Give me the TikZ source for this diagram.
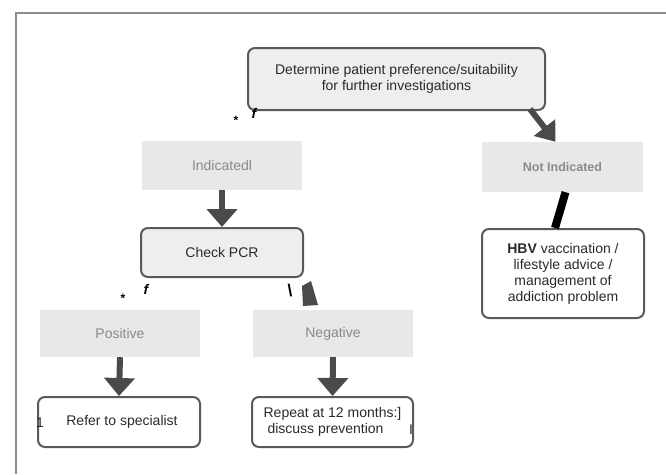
\documentclass[tikz,border=0pt]{standalone}
\usepackage{fontspec}
\setmainfont{Liberation Sans}
\usetikzlibrary{arrows.meta,calc}
\definecolor{framecol}{HTML}{8C8C8C}
\definecolor{arrcol}{HTML}{4A4A4A}
\definecolor{boxline}{HTML}{5A5A5A}
\definecolor{grayfill}{HTML}{E8E8E8}
\definecolor{lightfill}{HTML}{EEEEEE}
\definecolor{graytext}{HTML}{8A8A8A}
\definecolor{darktext}{HTML}{2A2A2A}
\tikzset{
  rbox/.style={draw=boxline, line width=2pt, rounded corners=7pt, fill=white,
    text=darktext, align=center, font=\fontsize{14}{16}\selectfont, inner sep=2pt},
  rboxfill/.style={rbox, fill=lightfill},
  gbox/.style={fill=grayfill, text=graytext, align=center,
    font=\fontsize{14}{16}\selectfont, inner sep=2pt},
  bigarrow/.style={draw=arrcol, line width=6pt,
    -{Triangle[width=30pt,length=18pt,fill=arrcol]}},
  mark text/.style={font=\fontsize{12}{12}\selectfont\bfseries, text=black, inner sep=0pt}
}
\begin{document}
\begin{tikzpicture}[x=1pt,y=-1pt]
\useasboundingbox (0,0) rectangle (666,474);
% frame
\draw[framecol, line width=1.6pt] (666,13) -- (16,13) -- (16,474);

% nodes
\node[rboxfill, minimum width=297pt, minimum height=62pt] (top) at (396.5,79)
  {Determine patient preference/suitability\\for further investigations};
\node[gbox, minimum width=160pt, minimum height=49pt] (ind) at (222,165.5) {Indicatedl};
\node[gbox, minimum width=161pt, minimum height=50pt, font=\fontsize{12.5}{14}\selectfont\bfseries] (notind) at (562.5,167) {Not Indicated};
\node[rboxfill, minimum width=162pt, minimum height=49pt] (pcr) at (222,252.5) {Check PCR};
\node[rbox, minimum width=162pt, minimum height=89pt] (hbv) at (563,273.5)
  {\textbf{HBV} vaccination /\\lifestyle advice /\\management of\\addiction problem};
\node[gbox, minimum width=160pt, minimum height=47pt] (pos) at (120,333.5) {Positive};
\node[gbox, minimum width=160pt, minimum height=47pt] (neg) at (333,333.5) {Negative};
\node[rbox, minimum width=162pt, minimum height=50pt] (refer) at (119,422) {\hspace*{6pt}Refer to specialist};
\node[rbox, minimum width=161pt, minimum height=50pt] (repeat) at (332.5,422)
  {Repeat at 12 months:]\\discuss prevention\hspace*{14pt}};

% stray marks printed in the picture
\node[mark text] (s1) at (236,120) {*};
\node[mark text, font=\fontsize{14}{14}\selectfont\bfseries\itshape] (f1) at (254,113) {f};
\node[mark text] (s2) at (123,298) {*};
\node[mark text, font=\fontsize{14}{14}\selectfont\bfseries\itshape] (f2) at (146,289) {f};
\node[mark text, font=\fontsize{17}{17}\selectfont\bfseries] (bs) at (290,291) {\textbackslash};
\node[font=\fontsize{14}{14}\selectfont, text=darktext, inner sep=0pt] (one) at (40,423) {1};
\node[font=\fontsize{14}{14}\selectfont, text=darktext, inner sep=0pt] (bar) at (411,430) {I};

% connectors
\draw[bigarrow, -{Triangle[width=26pt,length=18pt,fill=arrcol]}]
  ($(top.south east)+(-16,-2)$) -- ($(notind.north)+(-7,0)$);
\draw[bigarrow] (ind.south) -- (pcr.north);
\draw[bigarrow] (pos.south) -- (refer.north);
\draw[bigarrow] (neg.south) -- (repeat.north);
\draw[black, line width=8pt] ($(notind.south)+(3,0)$) -- ($(hbv.north)+(-8,0)$);
% fragment of the Check PCR -> Negative arrowhead
\fill[arrcol] (302,286) -- (311,281) -- (318,305) -- (303,306) -- cycle;
\end{tikzpicture}
\end{document}
